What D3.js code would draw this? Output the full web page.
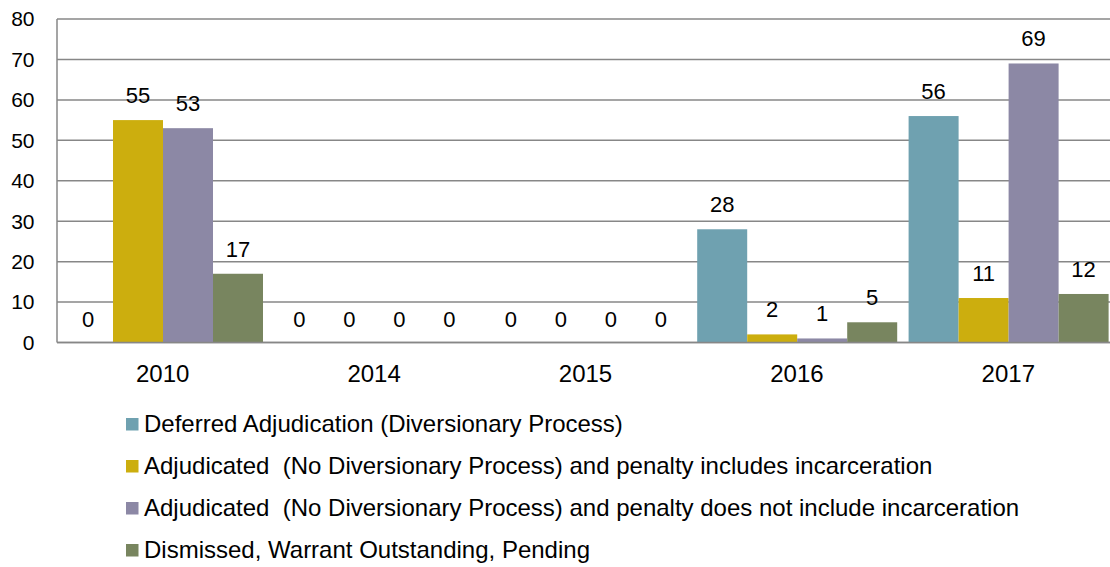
<!DOCTYPE html>
<html>
<head>
<meta charset="utf-8">
<script src="https://cdn.jsdelivr.net/npm/d3@7"></script>
<style>
  html, body { margin: 0; padding: 0; background: #fff; }
  svg { display: block; font-family: "Liberation Sans", Arial, sans-serif; }
  text { white-space: pre; }
</style>
</head>
<body>
<svg id="chart" width="1110" height="567"></svg>
<script>
// Case outcomes per year
const years = ["2010", "2014", "2015", "2016", "2017"];
const seriesNames = [
  "Deferred Adjudication (Diversionary Process)",
  "Adjudicated  (No Diversionary Process) and penalty includes incarceration",
  "Adjudicated  (No Diversionary Process) and penalty does not include incarceration",
  "Dismissed, Warrant Outstanding, Pending"
];
const deferred        = [0, 0, 0, 28, 56];
const incarceration   = [55, 0, 0, 2, 11];
const noIncarceration = [53, 0, 0, 1, 69];
const dismissed       = [17, 0, 0, 5, 12];
const yTicks = [0, 10, 20, 30, 40, 50, 60, 70, 80];
const colors = ["#6fa1b0", "#ccae0e", "#8c88a5", "#78855f"];

const seriesValues = [deferred, incarceration, noIncarceration, dismissed];

const svg = d3.select("#chart");
const plot = { left: 57, right: 1114, top: 19, bottom: 342.5 };

const y = d3.scaleLinear().domain([0, 80]).range([plot.bottom, plot.top]);
const x0 = d3.scaleBand().domain(years).range([plot.left, plot.right]);
const x1 = d3.scaleBand().domain(d3.range(seriesNames.length))
  .range([6, x0.bandwidth() - 5.4]);

// horizontal gridlines
svg.append("g")
  .selectAll("line")
  .data(yTicks)
  .join("line")
  .attr("x1", plot.left).attr("x2", 1110)
  .attr("y1", d => y(d)).attr("y2", d => y(d))
  .attr("stroke", "#878787").attr("stroke-width", 1.5);

// y axis line and tick labels
svg.append("line")
  .attr("x1", plot.left).attr("x2", plot.left)
  .attr("y1", plot.top).attr("y2", plot.bottom)
  .attr("stroke", "#878787").attr("stroke-width", 1.5);

svg.append("g")
  .selectAll("text")
  .data(yTicks)
  .join("text")
  .attr("x", 34.5).attr("y", d => y(d))
  .attr("dy", "0.35em")
  .attr("text-anchor", "end")
  .attr("font-size", 21)
  .attr("fill", "#000")
  .text(d => d);

// bars
const groups = svg.append("g")
  .selectAll("g")
  .data(years)
  .join("g")
  .attr("transform", d => `translate(${x0(d)},0)`);

groups.selectAll("rect")
  .data((d, i) => seriesValues.map((s, k) => ({ k, v: s[i] })))
  .join("rect")
  .attr("x", d => x1(d.k))
  .attr("width", x1.bandwidth())
  .attr("y", d => y(d.v))
  .attr("height", d => y(0) - y(d.v))
  .attr("fill", d => colors[d.k]);

// value labels
groups.selectAll("text")
  .data((d, i) => seriesValues.map((s, k) => ({ k, v: s[i] })))
  .join("text")
  .attr("x", d => x1(d.k) + x1.bandwidth() / 2)
  .attr("y", d => y(d.v) - (d.v === 0 ? 16 : 17))
  .attr("text-anchor", "middle")
  .attr("font-size", 22)
  .attr("fill", "#000")
  .text(d => d.v);

// x axis baseline
svg.append("line")
  .attr("x1", plot.left).attr("x2", 1110)
  .attr("y1", plot.bottom).attr("y2", plot.bottom)
  .attr("stroke", "#878787").attr("stroke-width", 1.5);

// category labels
svg.append("g")
  .selectAll("text")
  .data(years)
  .join("text")
  .attr("x", d => x0(d) + x0.bandwidth() / 2)
  .attr("y", 382)
  .attr("text-anchor", "middle")
  .attr("font-size", 24)
  .attr("fill", "#000")
  .text(d => d);

// legend
const legend = svg.append("g")
  .selectAll("g")
  .data(seriesNames)
  .join("g")
  .attr("transform", (d, i) => `translate(126,${424 + i * 42})`);

legend.append("rect")
  .attr("x", 0).attr("y", -6)
  .attr("width", 12.5).attr("height", 12.5)
  .attr("fill", (d, i) => colors[i]);

legend.append("text")
  .attr("x", 18).attr("y", 0)
  .attr("dy", "0.35em")
  .attr("font-size", 24)
  .attr("fill", "#000")
  .text(d => d);
</script>
</body>
</html>
